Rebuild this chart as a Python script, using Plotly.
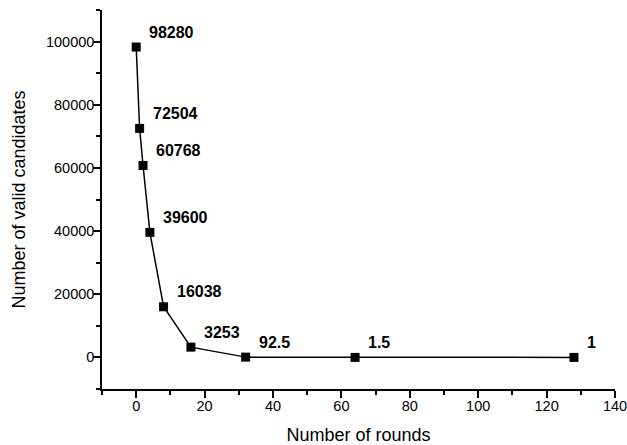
import plotly.graph_objects as go

# Values
rounds = [0, 1, 2, 4, 8, 16, 32, 64, 128]
candidates = [98280, 72504, 60768, 39600, 16038, 3253, 92.5, 1.5, 1]
labels = ["98280", "72504", "60768", "39600", "16038", "3253", "92.5", "1.5", "1"]

FONT = "Liberation Sans, Arial, sans-serif"

fig = go.Figure()
fig.add_trace(go.Scatter(
    x=rounds, y=candidates, mode="lines+markers",
    line=dict(color="black", width=1.5),
    marker=dict(symbol="square", size=9, color="black"),
    showlegend=False, hoverinfo="skip",
))

for xv, yv, t in zip(rounds, candidates, labels):
    fig.add_annotation(x=xv, y=yv, text="<b>%s</b>" % t, showarrow=False,
                       xanchor="left", yanchor="middle", xshift=11, yshift=15,
                       font=dict(family=FONT, size=16, color="black"))

axis_common = dict(
    showline=True, linecolor="black", linewidth=1.5,
    ticks="outside", ticklen=7, tickwidth=1.5, tickcolor="black",
    showgrid=False, zeroline=False, mirror=False, automargin=False,
    tickformat="d", ticklabelstandoff=-4, ticklabeloverflow="allow",
    tickfont=dict(family=FONT, size=14.5, color="black"),
)

fig.update_layout(
    width=627, height=445,
    margin=dict(l=101.5, r=12, t=10, b=56),
    paper_bgcolor="white", plot_bgcolor="white",
    xaxis=dict(range=[-10, 140], tick0=0, dtick=20,
               minor=dict(ticks="outside", ticklen=4, tickwidth=1.5, tickcolor="black", dtick=10, tick0=0),
               title=dict(text="Number of rounds", font=dict(family=FONT, size=18, color="black"), standoff=22),
               **axis_common),
    yaxis=dict(range=[-10000, 110000], tick0=0, dtick=20000,
               minor=dict(ticks="outside", ticklen=4, tickwidth=1.5, tickcolor="black", dtick=10000, tick0=0),
               title=dict(text="Number of valid candidates", font=dict(family=FONT, size=18, color="black"), standoff=16),
               **axis_common),
)

# remove the default page margin so the figure fills the window exactly
fig.write_html("out.html", config={"displayModeBar": False},
               post_script="document.body.style.margin='0';document.body.style.overflow='hidden';")
